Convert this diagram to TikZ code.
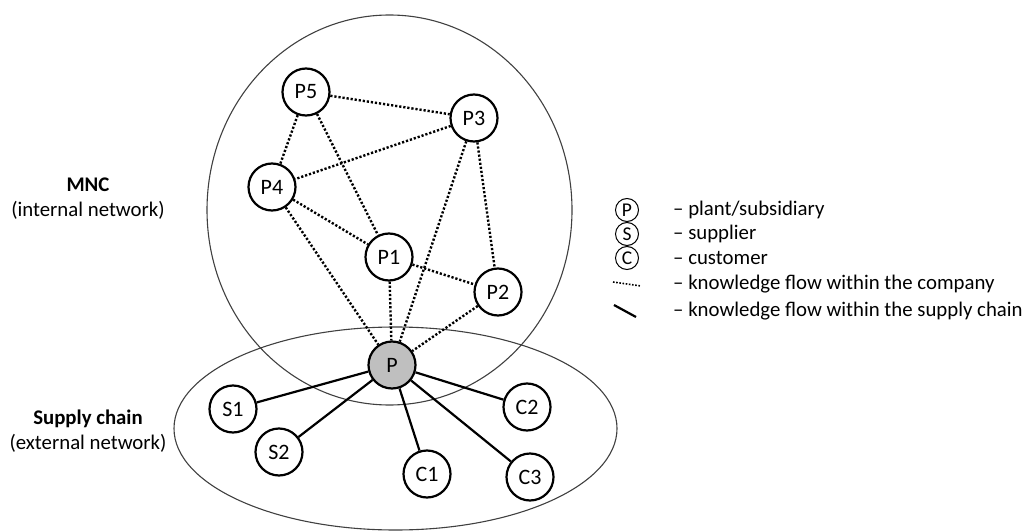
\documentclass[tikz,border=0pt]{standalone}
\usepackage{fontspec}
\setmainfont{Carlito}
\begin{document}
\begin{tikzpicture}[x=1pt,y=-1pt,
  every node/.style={font=\fontsize{20.8}{25}\selectfont},
  unit/.style={circle,draw,line width=2.2pt,minimum size=47pt,inner sep=0pt,fill=white,font=\fontsize{22}{26}\selectfont},
  focal/.style={unit,fill=black!25},
  region/.style={draw=black!75,line width=1.1pt},
  kflow/.style={line width=2.4pt,dash pattern=on 2.2pt off 1.9pt},
  sflow/.style={line width=2.2pt},
  legunit/.style={circle,draw,line width=1pt,minimum size=23pt,inner sep=0pt,font=\fontsize{19.5}{22}\selectfont},
  legtext/.style={anchor=west,inner sep=0pt}]
\useasboundingbox (0,0) rectangle (1025,532);

% company and supply-chain regions
\draw[region] (389.5,210) ellipse [x radius=182.5, y radius=195];
\draw[region] (395.5,428.5) ellipse [x radius=221.5, y radius=101.5];

% network members
\node[unit] (p5) at (306,92) {P5};
\node[unit] (p3) at (474,118) {P3};
\node[unit] (p4) at (272,187) {P4};
\node[unit] (p1) at (389,257) {P1};
\node[unit] (p2) at (498,292) {P2};
\node[focal] (p) at (392,365) {P};
\node[unit] (s1) at (233,409) {S1};
\node[unit] (s2) at (279,452) {S2};
\node[unit] (c1) at (427,474) {C1};
\node[unit] (c2) at (527,407) {C2};
\node[unit] (c3) at (530,477) {C3};

% knowledge flow inside the company
\draw[kflow] (p5) -- (p3);
\draw[kflow] (p5) -- (p4);
\draw[kflow] (p5) -- (p1);
\draw[kflow] (p3) -- (p4);
\draw[kflow] (p4) -- (p1);
\draw[kflow] (p4) -- (p);
\draw[kflow] (p1) -- (p);
\draw[kflow] (p1) -- (p2);
\draw[kflow] (p3) -- (p);
\draw[kflow] (p3) -- (p2);
\draw[kflow] (p2) -- (p);
% knowledge flow along the supply chain
\draw[sflow] (p) -- (s1);
\draw[sflow] (p) -- (s2);
\draw[sflow] (p) -- (c1);
\draw[sflow] (p) -- (c2);
\draw[sflow] (p) -- (c3);

% side labels
\node[align=center] (mnc) at (88,199) {\textbf{MNC}\\(internal network)};
\node[align=center] (sc) at (88,431) {\textbf{Supply chain}\\(external network)};

% legend
\node[legunit] (lp) at (627,210) {P};
\node[legunit] (ls) at (627,234) {S};
\node[legunit] (lc) at (627,258) {C};
\coordinate (ld1) at (613,282);
\coordinate (ld2) at (641,286);
\draw[line width=1.6pt,dash pattern=on 1.6pt off 1.6pt] (ld1) -- (ld2);
\coordinate (ls1) at (614,305);
\coordinate (ls2) at (636,317);
\draw[line width=2.2pt] (ls1) -- (ls2);
\node[legtext] (tp) at (673,210) {– plant/subsidiary};
\node[legtext] (ts) at (673,234) {– supplier};
\node[legtext] (tc) at (673,258) {– customer};
\node[legtext] (td) at (673,284) {– knowledge flow within the company};
\node[legtext] (tsc) at (673,311) {– knowledge flow within the supply chain};
\end{tikzpicture}
\end{document}
